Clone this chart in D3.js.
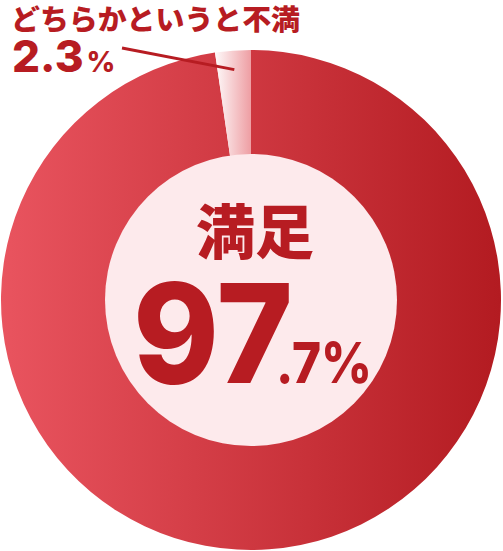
<!DOCTYPE html>
<html>
<head>
<meta charset="utf-8">
<script src="https://cdn.jsdelivr.net/npm/d3@7"></script>
<style>
  body { margin: 0; background: #fff; }
  svg { display: block; }
</style>
</head>
<body>
<svg></svg>
<script>
// data
var labels = ["満足", "どちらかというと不満"];
var values = [97.7, 2.3];
var intPart = ["97", "2"];
var decPart = [".7%", ".3"];

var svg = d3.select("svg"),
    width = 503,
    height = 551,
    cx = 251, cy = 300,
    outerR = 250, innerR = 146;

svg.attr("width", width).attr("height", height);

var defs = svg.append("defs");

//Gradient for main slice (light left -> dark right)
var gMain = defs.append("linearGradient")
    .attr("id", "grad-main")
    .attr("gradientUnits", "userSpaceOnUse")
    .attr("x1", -outerR).attr("x2", outerR).attr("y1", 0).attr("y2", 0);
gMain.append("stop").attr("offset", "0%").attr("stop-color", "#e9545f");
gMain.append("stop").attr("offset", "100%").attr("stop-color", "#b31b21");

//Gradient for small slice (white -> pink)
var gSmall = defs.append("linearGradient")
    .attr("id", "grad-small")
    .attr("gradientUnits", "userSpaceOnUse")
    .attr("x1", -38).attr("x2", 0).attr("y1", 0).attr("y2", 0);
gSmall.append("stop").attr("offset", "0%").attr("stop-color", "#ffffff");
gSmall.append("stop").attr("offset", "100%").attr("stop-color", "#ee9ea3");

var g = svg.append("g")
    .attr("transform", "translate(" + cx + "," + cy + ")");

var pie = d3.pie().sort(null).value(function(d) { return d; });
var arc = d3.arc().innerRadius(0).outerRadius(outerR);

g.selectAll(".slice")
  .data(pie(values))
  .enter().append("path")
    .attr("class", "slice")
    .attr("d", arc)
    .attr("fill", function(d, i) { return i === 0 ? "url(#grad-main)" : "url(#grad-small)"; });

//Inner circle
g.append("circle")
  .attr("r", innerR)
  .attr("fill", "#fdeaec");

var red = "#b71c22";
var numFont = "Inter, 'Liberation Sans', sans-serif";
var jpFont = "'Noto Sans CJK JP', sans-serif";

//Center label
g.append("text")
  .attr("x", 4).attr("y", -46)
  .attr("text-anchor", "middle")
  .attr("font-family", jpFont)
  .attr("font-weight", 900)
  .attr("font-size", 59)
  .attr("fill", red)
  .text(labels[0]);

g.append("text")
  .attr("x", 133 - cx).attr("y", 83)
  .attr("font-family", numFont)
  .attr("font-weight", 800)
  .attr("font-size", 138)
  .attr("textLength", 160)
  .attr("lengthAdjust", "spacingAndGlyphs")
  .attr("fill", red)
  .text(intPart[0]);

g.append("text")
  .attr("x", 276 - cx).attr("y", 83)
  .attr("font-family", numFont)
  .attr("font-weight", 800)
  .attr("font-size", 57)
  .attr("textLength", 96)
  .attr("lengthAdjust", "spacingAndGlyphs")
  .attr("fill", red)
  .text(decPart[0]);

//Small slice label
svg.append("text")
  .attr("x", 11).attr("y", 30)
  .attr("font-family", jpFont)
  .attr("font-weight", 900)
  .attr("font-size", 28)
  .attr("textLength", 289)
  .attr("lengthAdjust", "spacingAndGlyphs")
  .attr("fill", red)
  .text(labels[1]);

var small = svg.append("text")
  .attr("x", 12).attr("y", 72)
  .attr("font-family", numFont)
  .attr("font-weight", 800)
  .attr("fill", red);
small.append("tspan").attr("font-size", 44).text(intPart[1] + decPart[1]);
small.append("tspan").attr("font-size", 28).attr("dx", 3).text("%");

//Leader line to small slice
var a = pie(values)[1];
var mid = (a.startAngle + a.endAngle) / 2;
svg.append("line")
  .attr("x1", 122).attr("y1", 48)
  .attr("x2", cx + Math.sin(mid) * 231).attr("y2", cy - Math.cos(mid) * 231)
  .attr("stroke", red)
  .attr("stroke-width", 3);
</script>
</body>
</html>
